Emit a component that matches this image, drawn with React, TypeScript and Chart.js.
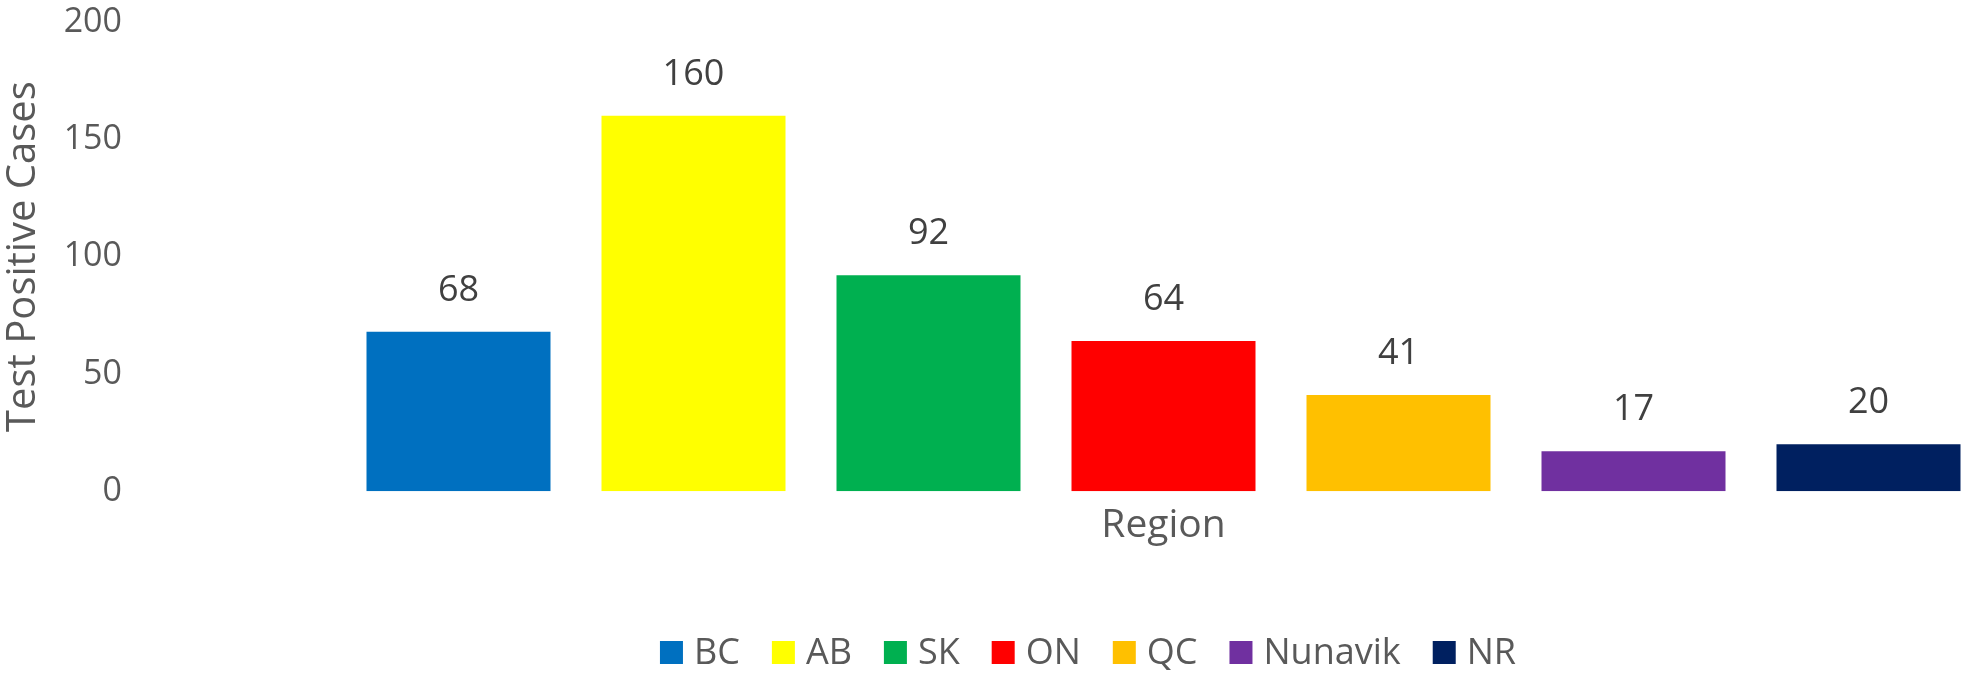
import React, { useEffect, useRef } from "react";
import { Chart, registerables } from "chart.js";

Chart.register(...registerables);

const regions = ["BC", "AB", "SK", "ON", "QC", "Nunavik", "NR"];
const cases = [68, 160, 92, 64, 41, 17, 20];
const barColors = ["#0070C0", "#FFFF00", "#00B050", "#FF0000", "#FFC000", "#7030A0", "#002060"];
const yMin = 0;
const yMax = 200;
const yStep = 50;
const yTitle = "Test Positive Cases";
const xTitle = "Region";

const FONT = "'Open Sans', 'DejaVu Sans', sans-serif";
const TEXT = "#595959";

const valueLabels = {
  id: "valueLabels",
  afterDatasetsDraw(chart: any) {
    const ctx = chart.ctx;
    const meta = chart.getDatasetMeta(0);
    ctx.save();
    ctx.font = `36px ${FONT}`;
    ctx.fillStyle = "#404040";
    ctx.textAlign = "center";
    ctx.textBaseline = "alphabetic";
    meta.data.forEach((bar: any, i: number) => {
      ctx.fillText(String(cases[i]), bar.x, bar.y - 31);
    });
    ctx.restore();
  },
};

const customLegend = {
  id: "customLegend",
  afterDraw(chart: any) {
    const ctx = chart.ctx;
    ctx.save();
    ctx.font = `36px ${FONT}`;
    ctx.textBaseline = "alphabetic";
    ctx.textAlign = "left";
    const box = 23;
    const boxToText = 34;
    const itemGap = 32;
    const widths = regions.map((r) => ctx.measureText(r).width);
    let total = 0;
    widths.forEach((w, i) => {
      total += boxToText + w + (i < widths.length - 1 ? itemGap : 0);
    });
    const centerX = 1088;
    let x = centerX - total / 2;
    const boxTop = 641;
    const baseline = 664;
    regions.forEach((r, i) => {
      ctx.fillStyle = barColors[i];
      ctx.fillRect(x, boxTop, box, box);
      ctx.fillStyle = TEXT;
      ctx.fillText(r, x + boxToText, baseline);
      x += boxToText + widths[i] + itemGap;
    });
    ctx.restore();
  },
};

export default function App() {
  const canvasRef = useRef<HTMLCanvasElement | null>(null);

  useEffect(() => {
    const canvas = canvasRef.current;
    if (!canvas) return;
    const chart = new Chart(canvas, {
      type: "bar",
      data: {
        labels: regions,
        datasets: [
          {
            data: cases,
            backgroundColor: barColors,
            borderWidth: 0,
            categoryPercentage: 1,
            barPercentage: 0.783,
          },
        ],
      },
      options: {
        responsive: false,
        animation: false,
        devicePixelRatio: 1,
        layout: { padding: { top: 22, right: 14, bottom: 124, left: 0 } },
        plugins: {
          legend: { display: false },
          tooltip: { enabled: false },
        },
        scales: {
          x: {
            grid: { display: false, drawTicks: false },
            border: { display: false },
            ticks: { display: false },
            title: {
              display: true,
              text: xTitle,
              color: TEXT,
              font: { family: FONT, size: 39 },
              padding: { top: 11, bottom: 0 },
            },
          },
          y: {
            min: yMin,
            max: yMax,
            grid: { display: false, drawTicks: true, tickLength: 219 },
            border: { display: false },
            ticks: {
              stepSize: yStep,
              color: TEXT,
              font: { family: FONT, size: 34 },
              padding: 0,
            },
            title: {
              display: true,
              text: yTitle,
              color: TEXT,
              font: { family: FONT, size: 40 },
              padding: { top: 0, bottom: 0 },
            },
            afterFit(scale: any) {
              scale.width = 341;
            },
          },
        },
      },
      plugins: [valueLabels, customLegend],
    });
    return () => chart.destroy();
  }, []);

  return (
    <div
      style={{
        position: "fixed",
        left: 0,
        top: 0,
        width: 1965,
        height: 673,
        overflow: "hidden",
        background: "#ffffff",
      }}
    >
      <canvas ref={canvasRef} width={2000} height={673} style={{ display: "block" }} />
    </div>
  );
}
